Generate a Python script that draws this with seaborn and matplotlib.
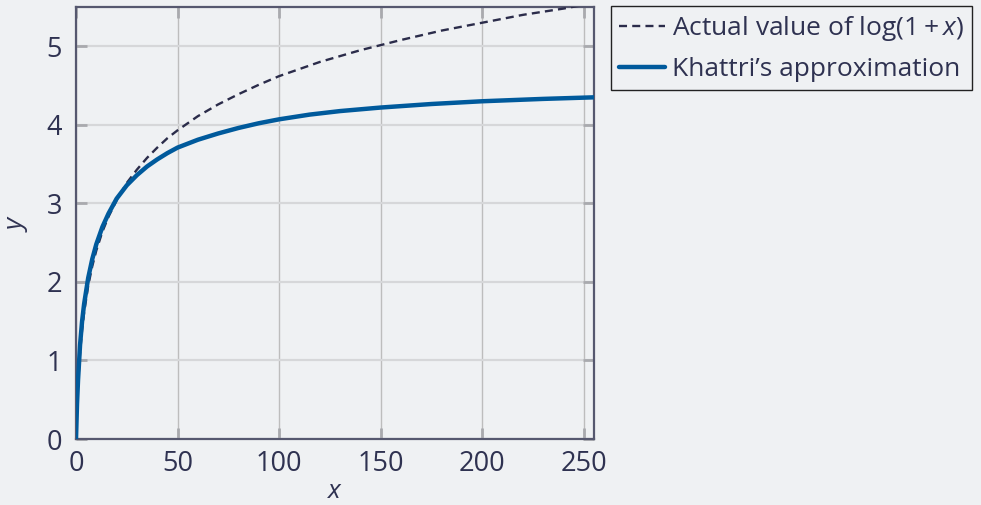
import numpy as np
import pandas as pd
import matplotlib
matplotlib.use("Agg")
import matplotlib.pyplot as plt
import seaborn as sns

# Sample points of the exact curve y = log(1 + x)
x_actual = [0, 0.5, 1, 2, 3, 4, 6, 8, 10, 13, 16, 20, 25, 30, 35, 40, 45, 50,
            60, 70, 80, 90, 100, 120, 140, 160, 180, 200, 220, 240, 255]
y_actual = [0.00, 0.41, 0.69, 1.10, 1.39, 1.61, 1.95, 2.20, 2.40, 2.64, 2.83,
            3.04, 3.26, 3.43, 3.58, 3.71, 3.83, 3.93, 4.11, 4.26, 4.39, 4.51,
            4.62, 4.80, 4.95, 5.08, 5.20, 5.30, 5.40, 5.48, 5.55]

# Sample points of Khattri's approximation
x_khattri = [0, 0.5, 1, 2, 3, 4, 6, 8, 10, 13, 16, 20, 25, 30, 35, 40, 45, 50,
             60, 70, 80, 90, 100, 115, 130, 150, 175, 200, 230, 255]
y_khattri = [0.00, 0.45, 0.75, 1.20, 1.50, 1.72, 2.05, 2.29, 2.48, 2.70, 2.87,
             3.06, 3.23, 3.36, 3.47, 3.56, 3.64, 3.71, 3.81, 3.89, 3.96, 4.02,
             4.07, 4.13, 4.175, 4.22, 4.265, 4.30, 4.33, 4.35]

x_ticks = [0, 50, 100, 150, 200, 250]
y_ticks = [0, 1, 2, 3, 4, 5]

label_actual = r"Actual value of $\log(1+x)$"
label_khattri = "Khattri\u2019s approximation"

BG = "#eff1f3"
INK = "#2f3251"
BLUE = "#005a9c"
DASH = "#2b2c4a"

sns.set_theme(style="white")
plt.rcParams["font.family"] = ["Open Sans", "DejaVu Sans"]
plt.rcParams["mathtext.fontset"] = "custom"
plt.rcParams["mathtext.rm"] = "Open Sans"
plt.rcParams["mathtext.it"] = "Open Sans:italic"
plt.rcParams["mathtext.bf"] = "Open Sans:bold"

fig = plt.figure(figsize=(9.81, 5.05), dpi=100, facecolor=BG)
ax = fig.add_axes([76 / 981, 1 - 439 / 505, (594 - 76) / 981, (439 - 7) / 505])
ax.set_facecolor(BG)

df_actual = pd.DataFrame({"x": x_actual, "y": y_actual})
df_khattri = pd.DataFrame({"x": x_khattri, "y": y_khattri})

sns.lineplot(data=df_actual, x="x", y="y", ax=ax, color=DASH, lw=1.7,
             linestyle=(0, (3.4, 2.2)), label=label_actual, zorder=3)
sns.lineplot(data=df_khattri, x="x", y="y", ax=ax, color=BLUE, lw=3.2,
             label=label_khattri, zorder=4)

ax.set_xlim(0, 255)
ax.set_ylim(0, 5.5)
ax.set_xticks(x_ticks)
ax.set_yticks(y_ticks)

ax.xaxis.grid(True, color="#bdbdbd", lw=1.0)
ax.yaxis.grid(True, color="#d6d7d9", lw=1.6)
ax.set_axisbelow(True)

ax.tick_params(axis="both", which="major", direction="in", length=8, width=2,
               color="#a9aaae", labelsize=19.5, labelcolor=INK,
               top=True, right=True, bottom=True, left=True)
ax.tick_params(axis="y", pad=10)
ax.tick_params(axis="x", pad=8)

for s in ax.spines.values():
    s.set_visible(True)
    s.set_color("#56586f")
    s.set_linewidth(1.6)

ax.set_xlabel("$x$", fontsize=19, color=INK, labelpad=1)
ax.set_ylabel("$y$", fontsize=19, color=INK, labelpad=12)

handles, labels = ax.get_legend_handles_labels()
ax.get_legend().remove()
leg = fig.legend(handles, labels, loc="upper left",
                 bbox_to_anchor=(611 / 981, 1 - 6 / 505), fontsize=19,
                 frameon=True, fancybox=False, framealpha=1, facecolor=BG,
                 edgecolor="#222222", handlelength=1.75, handletextpad=0.25,
                 borderpad=0.3, labelspacing=0.55, borderaxespad=0)
leg.get_frame().set_linewidth(1.0)
for t in leg.get_texts():
    t.set_color(INK)

fig.savefig("out.png", dpi=100, facecolor=BG)
